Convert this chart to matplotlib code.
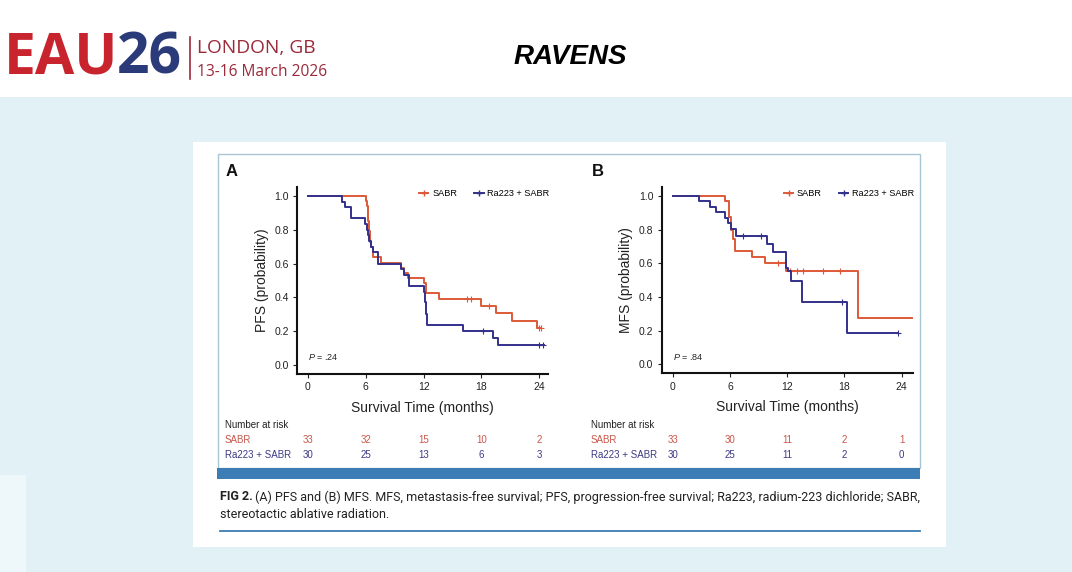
import numpy as np
import matplotlib
matplotlib.use("Agg")
import matplotlib.pyplot as plt
from matplotlib.patches import Rectangle
from matplotlib.lines import Line2D
from matplotlib.transforms import blended_transform_factory

# ---------------- data ----------------
risk_times = [0, 6, 12, 18, 24]

pfs_sabr_t = [0, 6.0, 6.1, 6.2, 6.3, 6.4, 6.5, 6.7, 7.6, 9.7, 10.0, 10.4, 12.0, 12.2, 13.6, 18.0, 19.5, 21.2, 23.8, 24.2]
pfs_sabr_s = [1.0, 0.97, 0.94, 0.85, 0.79, 0.73, 0.70, 0.64, 0.606, 0.576, 0.545, 0.515, 0.485, 0.424, 0.39, 0.35, 0.306, 0.262, 0.22, 0.22]
pfs_sabr_cens = [16.5, 16.9, 18.8, 24.0, 24.2]

pfs_ra_t = [0, 3.5, 3.8, 4.5, 5.9, 6.1, 6.2, 6.3, 6.5, 6.7, 7.3, 9.7, 10.0, 10.5, 12.0, 12.1, 12.2, 12.3, 12.4, 16.1, 19.2, 19.7, 24.5]
pfs_ra_s = [1.0, 0.967, 0.933, 0.867, 0.833, 0.80, 0.767, 0.733, 0.70, 0.667, 0.60, 0.567, 0.533, 0.467, 0.43, 0.37, 0.30, 0.27, 0.237, 0.20, 0.158, 0.12, 0.12]
pfs_ra_cens = [18.2, 24.0, 24.4]

mfs_sabr_t = [0, 5.5, 5.85, 6.1, 6.3, 6.5, 8.3, 9.7, 11.9, 19.45, 25.1]
mfs_sabr_s = [1.0, 0.97, 0.877, 0.80, 0.744, 0.675, 0.64, 0.60, 0.552, 0.276, 0.276]
mfs_sabr_cens = [11.0, 12.3, 13.0, 13.7, 15.8, 17.5]

mfs_ra_t = [0, 2.8, 3.9, 4.5, 5.5, 5.8, 6.1, 6.6, 9.85, 10.5, 11.9, 12.1, 12.4, 13.6, 18.3, 23.65]
mfs_ra_s = [1.0, 0.967, 0.937, 0.907, 0.87, 0.84, 0.803, 0.76, 0.714, 0.67, 0.572, 0.552, 0.493, 0.371, 0.187, 0.187]
mfs_ra_cens = [7.4, 9.3, 17.7, 23.65]

pfs_risk_sabr = [33, 32, 15, 10, 2]
pfs_risk_ra = [30, 25, 13, 6, 3]
mfs_risk_sabr = [33, 30, 11, 2, 1]
mfs_risk_ra = [30, 25, 11, 2, 0]

series_names = ["SABR", "Ra223 + SABR"]
# --------------------------------------

RED = "#dd5a38"
BLUE = "#33308c"
RED_TXT = "#c9574a"
BLUE_TXT = "#3d3a85"
BG = "#e2f1f5"
FONT = ["Liberation Sans", "DejaVu Sans"]

plt.rcParams["font.family"] = FONT
plt.rcParams["mathtext.fontset"] = "custom"
plt.rcParams["mathtext.it"] = "Liberation Sans:italic"
plt.rcParams["mathtext.rm"] = "Liberation Sans"

W, H = 1072, 572
fig = plt.figure(figsize=(W / 100, H / 100), dpi=100)
fig.patch.set_facecolor(BG)

bg = fig.add_axes([0, 0, 1, 1])
bg.set_xlim(0, W)
bg.set_ylim(H, 0)
bg.axis("off")

# header band
bg.add_patch(Rectangle((0, 0), W, 97, facecolor="white", edgecolor="none"))
bg.add_patch(Rectangle((0, 475), 26, 97, facecolor="#eef7f9", edgecolor="none"))
# card
bg.add_patch(Rectangle((193, 142), 753, 405, facecolor="white", edgecolor="none"))
bg.add_patch(Rectangle((217.5, 154), 702.5, 314, facecolor="none", edgecolor="#a9c5d3", linewidth=1.0))
bg.add_patch(Rectangle((217, 468), 703, 11, facecolor="#3b7db4", edgecolor="none"))
bg.plot([220, 920], [531, 531], color="#3b7db4", linewidth=1.3)

# header texts
hfont = ["Open Sans", "DejaVu Sans"]
bg.text(4, 58, "EAU", color="#c8242d", fontsize=41, fontweight="bold", family=hfont, va="center", ha="left")
bg.text(117, 58, "26", color="#2b3a78", fontsize=41, fontweight="bold", family=hfont, va="center", ha="left")
bg.plot([190, 190], [37, 79], color="#9b2a3a", linewidth=1.2)
bg.text(197, 48, "LONDON, GB", color="#9b2a3a", fontsize=13.8, family=hfont, va="center", ha="left")
bg.text(197, 72, "13-16 March 2026", color="#9b2a3a", fontsize=11.2, family=hfont, va="center", ha="left")
bg.text(570, 57, "RAVENS", color="black", fontsize=20, fontweight="bold", fontstyle="italic",
        va="center", ha="center")

# caption
cap_font = ["Liberation Sans Narrow", "Roboto", "DejaVu Sans"]
bg.text(220, 497, "FIG 2.", fontsize=9.0, fontweight="bold", family=cap_font, va="center", ha="left",
        color="#222222")
bg.text(255, 497, "(A) PFS and (B) MFS. MFS, metastasis-free survival; PFS, progression-free survival; "
        "Ra223, radium-223 dichloride; SABR,", fontsize=9.0, family=cap_font, va="center", ha="left",
        color="#222222")
bg.text(220, 515, "stereotactic ablative radiation.", fontsize=9.0, family=cap_font, va="center", ha="left",
        color="#222222")


def add_panel(rect_px, xlim, label, label_x, ylabel, sabr_t, sabr_s, sabr_c, ra_t, ra_s, ra_c,
              pval, risk_sabr, risk_ra, row_label_x):
    l, r, t, b = rect_px
    ax = fig.add_axes([l / W, 1 - b / H, (r - l) / W, (b - t) / H])
    ax.set_facecolor("none")
    ax.set_xlim(*xlim)
    ax.set_ylim(-0.053, 1.053)
    for s in ["top", "right"]:
        ax.spines[s].set_visible(False)
    for s in ["left", "bottom"]:
        ax.spines[s].set_linewidth(1.5)
        ax.spines[s].set_color("#111111")
    ax.set_xticks(risk_times)
    ax.set_yticks([0.0, 0.2, 0.4, 0.6, 0.8, 1.0])
    ax.set_yticklabels(["0.0", "0.2", "0.4", "0.6", "0.8", "1.0"])
    ax.tick_params(labelsize=7.5, length=3, width=0.8, pad=3, colors="#222222")
    ax.set_xlabel("Survival Time (months)", fontsize=10, labelpad=6, color="#222222")
    ax.set_ylabel(ylabel, fontsize=10, labelpad=4, color="#222222")

    for tt, ss, cc, col, name in [(sabr_t, sabr_s, sabr_c, RED, series_names[0]),
                                  (ra_t, ra_s, ra_c, BLUE, series_names[1])]:
        ax.step(tt, ss, where="post", color=col, linewidth=1.4, label=name)
        idx = np.searchsorted(np.asarray(tt), np.asarray(cc), side="right") - 1
        cy = np.asarray(ss)[idx]
        ax.plot(cc, cy, linestyle="none", marker="+", markersize=4, markeredgewidth=0.8, color=col)

    handles = [Line2D([], [], color=RED, linewidth=1.4, marker="+", markersize=4),
               Line2D([], [], color=BLUE, linewidth=1.4, marker="+", markersize=4)]
    ax.legend(handles, series_names, loc="upper right", bbox_to_anchor=(1.02, 1.01), ncol=2, frameon=False,
              fontsize=6.6, handlelength=1.0, handletextpad=0.4, columnspacing=1.9, borderaxespad=0)

    ax.text(0.0, 0.045, r"$\it{P}$ = " + pval, fontsize=6.5, color="#222222", ha="left", va="center",
            transform=ax.transData)

    # panel label
    bg.text(label_x, 172, label, fontsize=12, fontweight="bold", va="center", ha="left", color="#111111")

    # number at risk table
    tr = blended_transform_factory(ax.transData, bg.transData)
    bg.text(row_label_x, 425, "Number at risk", fontsize=7, va="center", ha="left", color="#222222")
    bg.text(row_label_x, 440, series_names[0], fontsize=7, va="center", ha="left", color=RED_TXT)
    bg.text(row_label_x, 455, series_names[1], fontsize=7, va="center", ha="left", color=BLUE_TXT)
    for xt, n1, n2 in zip(risk_times, risk_sabr, risk_ra):
        bg.text(xt, 440, str(n1), fontsize=7, va="center", ha="center", color=RED_TXT, transform=tr)
        bg.text(xt, 455, str(n2), fontsize=7, va="center", ha="center", color=BLUE_TXT, transform=tr)
    return ax


add_panel((297, 548, 187, 374), (-1.13, 24.9), "A", 226, "PFS (probability)",
          pfs_sabr_t, pfs_sabr_s, pfs_sabr_cens, pfs_ra_t, pfs_ra_s, pfs_ra_cens,
          ".24", pfs_risk_sabr, pfs_risk_ra, 225)
add_panel((661.7, 912.7, 187, 373.3), (-1.15, 25.15), "B", 592, "MFS (probability)",
          mfs_sabr_t, mfs_sabr_s, mfs_sabr_cens, mfs_ra_t, mfs_ra_s, mfs_ra_cens,
          ".84", mfs_risk_sabr, mfs_risk_ra, 591)

fig.savefig("out.png", dpi=100, facecolor=fig.get_facecolor())
